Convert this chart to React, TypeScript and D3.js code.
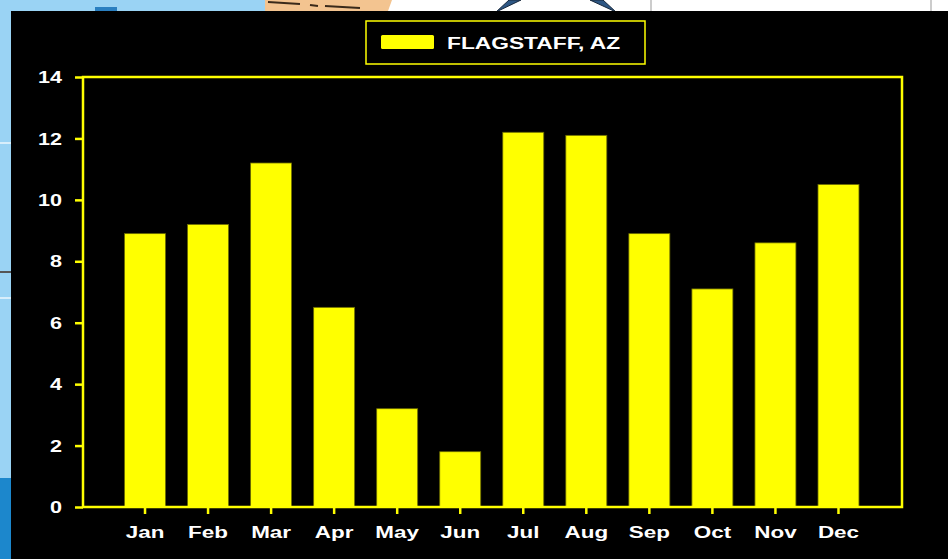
import React, { useEffect, useRef } from 'react';
import * as d3 from 'd3';

// Monthly values
const months = ['Jan', 'Feb', 'Mar', 'Apr', 'May', 'Jun', 'Jul', 'Aug', 'Sep', 'Oct', 'Nov', 'Dec'];
const flagstaff = [8.9, 9.2, 11.2, 6.5, 3.2, 1.8, 12.2, 12.1, 8.9, 7.1, 8.6, 10.5];
const yTicks = [0, 2, 4, 6, 8, 10, 12, 14];
const seriesName = 'FLAGSTAFF, AZ';

const YELLOW = '#ffff00';
const FONT = '"Liberation Sans", Arial, sans-serif';

export default function App() {
	const node = useRef<SVGSVGElement | null>(null);

	useEffect(() => {
		const svg = d3.select(node.current);
		svg.selectAll('*').remove();

		// Background bits peeking out around the chart
		const bg = svg.append('g');
		bg.append('rect').attr('width', 948).attr('height', 559).attr('fill', '#ffffff');
		bg.append('rect').attr('width', 268).attr('height', 559).attr('fill', '#9ad3f4');
		bg.append('rect').attr('y', 478).attr('width', 11).attr('height', 81).attr('fill', '#1c87cc');
		bg.append('rect').attr('y', 142).attr('width', 11).attr('height', 2).attr('fill', '#d8eefb');
		bg.append('rect').attr('y', 271).attr('width', 11).attr('height', 2).attr('fill', '#555555');
		bg.append('rect').attr('y', 297).attr('width', 11).attr('height', 2).attr('fill', '#d8eefb');
		bg.append('rect').attr('x', 95).attr('y', 7).attr('width', 22).attr('height', 4).attr('fill', '#2a7fc0');
		bg.append('path')
			.attr('d', 'M265,0 L392,0 L388,11 L265,11 Z')
			.attr('fill', '#f3c490');
		bg.append('path')
			.attr('d', 'M268,2 L300,4 M310,5 L318,6 M325,6 L360,8')
			.attr('stroke', '#3a2a1a').attr('stroke-width', 2).attr('fill', 'none');
		bg.append('path')
			.attr('d', 'M496,12 L509,0 L521,0 Z M616,12 L603,0 L590,0 Z')
			.attr('fill', '#2e5784').attr('stroke', '#18283c').attr('stroke-width', 1);
		bg.append('line').attr('x1', 651).attr('x2', 651).attr('y1', 0).attr('y2', 11)
			.attr('stroke', '#bbbbbb').attr('stroke-width', 1.5);
		bg.append('line').attr('x1', 931).attr('x2', 931).attr('y1', 0).attr('y2', 11)
			.attr('stroke', '#bbbbbb').attr('stroke-width', 1.5);

		// Chart panel
		svg.append('rect')
			.attr('x', 11).attr('y', 11)
			.attr('width', 937).attr('height', 548)
			.attr('fill', '#000000');

		const frame = { left: 83, top: 77, right: 902, bottom: 507 };

		const x = d3.scaleBand<string>()
			.domain(months)
			.range([113.5, 870])
			.paddingInner(0.35)
			.paddingOuter(0.175);

		const y = d3.scaleLinear()
			.domain([0, 14])
			.range([frame.bottom, frame.top]);

		// Bars
		svg.append('g')
			.selectAll('rect')
			.data(flagstaff)
			.enter()
			.append('rect')
			.attr('x', (d, i) => x(months[i]) as number)
			.attr('y', d => y(d))
			.attr('width', x.bandwidth())
			.attr('height', d => y(0) - y(d))
			.attr('fill', YELLOW)
			.attr('stroke', '#6b6b00')
			.attr('stroke-width', 0.8);

		// Y axis
		const yAxis = svg.append('g')
			.attr('transform', `translate(${frame.left},0)`)
			.call(d3.axisLeft(y).tickValues(yTicks).tickSize(8).tickFormat(d3.format('d')));
		yAxis.select('.domain').remove();
		yAxis.selectAll('line').attr('stroke', YELLOW).attr('stroke-width', 2.5);
		yAxis.selectAll('text')
			.attr('x', 0)
			.attr('dy', '0.35em')
			.attr('transform', 'translate(-21,0) scale(1.35,1)')
			.attr('fill', '#ffffff')
			.style('font', `bold 16px ${FONT}`);

		// X axis
		const xAxis = svg.append('g')
			.attr('transform', `translate(0,${frame.bottom})`)
			.call(d3.axisBottom(x).tickSize(7));
		xAxis.select('.domain').remove();
		xAxis.selectAll('line').attr('stroke', YELLOW).attr('stroke-width', 2.5);
		xAxis.selectAll('text')
			.attr('y', 0)
			.attr('dy', 0)
			.attr('transform', 'translate(0,31) scale(1.36,1)')
			.attr('fill', '#ffffff')
			.style('font', `bold 16.5px ${FONT}`);

		// Plot frame
		svg.append('rect')
			.attr('x', frame.left).attr('y', frame.top)
			.attr('width', frame.right - frame.left)
			.attr('height', frame.bottom - frame.top)
			.attr('fill', 'none')
			.attr('stroke', YELLOW)
			.attr('stroke-width', 2.5);

		// Legend
		const legend = svg.append('g');
		legend.append('rect')
			.attr('x', 366).attr('y', 21)
			.attr('width', 279).attr('height', 43)
			.attr('fill', 'none')
			.attr('stroke', YELLOW)
			.attr('stroke-width', 1.5);
		legend.append('rect')
			.attr('x', 381).attr('y', 35)
			.attr('width', 53).attr('height', 14)
			.attr('rx', 1.5)
			.attr('fill', YELLOW);
		legend.append('text')
			.attr('transform', 'translate(447,49) scale(1.34,1)')
			.attr('fill', '#ffffff')
			.style('font', `bold 17px ${FONT}`)
			.text(seriesName);
	}, []);

	return (
		<svg
			ref={node}
			width={948}
			height={559}
			style={{ position: 'fixed', left: 0, top: 0 }}
		/>
	);
}
